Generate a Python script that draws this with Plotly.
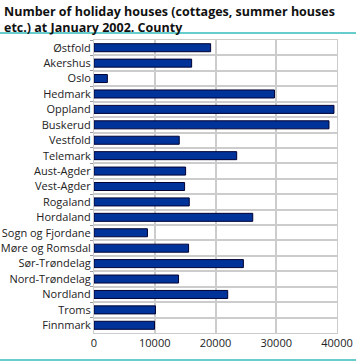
import plotly.graph_objects as go

counties = ["Østfold", "Akershus", "Oslo", "Hedmark", "Oppland", "Buskerud", "Vestfold",
            "Telemark", "Aust-Agder", "Vest-Agder", "Rogaland", "Hordaland", "Sogn og Fjordane",
            "Møre og Romsdal", "Sør-Trøndelag", "Nord-Trøndelag", "Nordland", "Troms", "Finnmark"]
houses = [19200, 16070, 2200, 29710, 39500, 38680, 14030,
          23490, 15080, 14910, 15680, 26130, 8800,
          15570, 24590, 13920, 22010, 10120, 9960]
x_ticks = [0, 10000, 20000, 30000, 40000]
title_text = "Number of holiday houses (cottages, summer houses<br>etc.) at January 2002. County"

L, R, T, B = 94, 19, 40, 29
W, H = 356, 362
pw, ph = W - L - R, H - T - B

fig = go.Figure()
fig.add_trace(go.Bar(
    x=houses, y=counties, orientation="h",
    marker=dict(color="#003399", line=dict(color="#000033", width=1)),
    width=0.52,
))

fig.update_layout(
    width=W, height=H,
    margin=dict(l=L, r=R, t=T, b=B, pad=0),
    paper_bgcolor="white", plot_bgcolor="white",
    font=dict(family="Open Sans", size=11, color="#222222"),
    showlegend=False,
    xaxis=dict(range=[0, 40000], tickvals=x_ticks, ticktext=[str(v) for v in x_ticks],
               showgrid=True, gridcolor="#cccccc", gridwidth=2, zeroline=False,
               showline=True, linecolor="#cccccc", linewidth=1, mirror=True,
               ticks="", automargin=False, tickfont=dict(size=11, color="#222222")),
    yaxis=dict(autorange="reversed", tickson="boundaries", showgrid=True, gridcolor="#cccccc",
               gridwidth=2, ticks="outside", ticklen=3, tickcolor="#999999",
               showline=True, linecolor="#cccccc", linewidth=1, mirror=True,
               automargin=False, tickfont=dict(size=11, color="#222222")),
    annotations=[
        dict(text="<b>" + title_text + "</b>", xref="paper", yref="paper",
             x=(2 - L) / pw, xanchor="left", y=(H - B - 1) / ph, yanchor="top",
             align="left", showarrow=False,
             font=dict(family="Open Sans", size=12.5, color="#111111")),
    ],
    shapes=[
        dict(type="line", xref="paper", yref="paper",
             x0=-L / pw, x1=(W - L) / pw, y0=(H - B - 33) / ph, y1=(H - B - 33) / ph,
             line=dict(color="#66cccc", width=2)),
        dict(type="line", xref="paper", yref="paper",
             x0=-L / pw, x1=(W - L) / pw, y0=(H - B - 360) / ph, y1=(H - B - 360) / ph,
             line=dict(color="#66cccc", width=2)),
    ],
)

fig.write_html("out.html", config={"displayModeBar": False},
               post_script="document.body.style.margin='0';document.body.style.overflow='hidden';")
